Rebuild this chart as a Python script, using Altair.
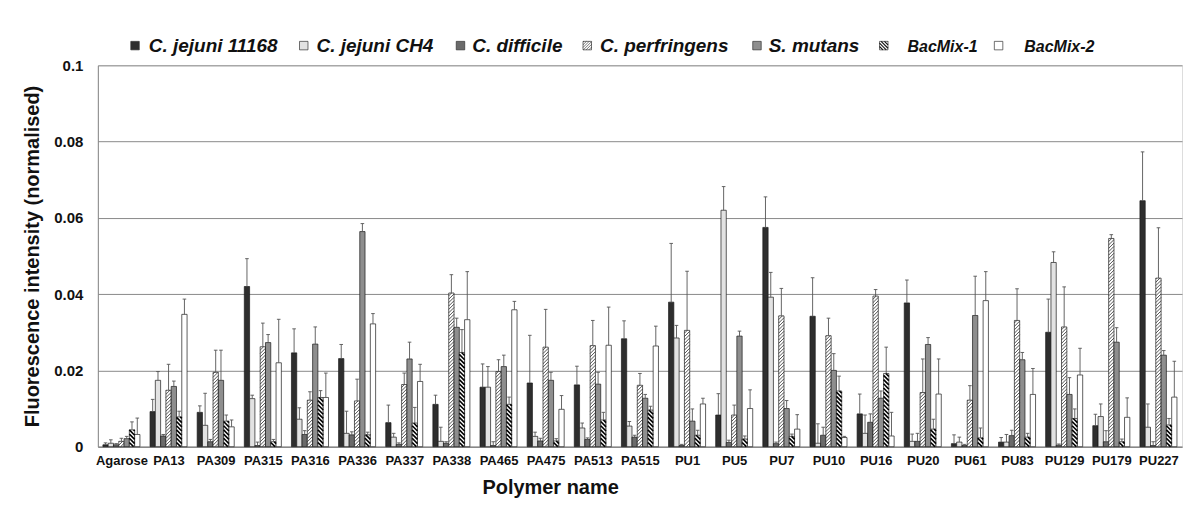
import json
import altair as alt
import pandas as pd

# ---------------- data ----------------
groups = ["Agarose", "PA13", "PA309", "PA315", "PA316", "PA336", "PA337", "PA338",
          "PA465", "PA475", "PA513", "PA515", "PU1", "PU5", "PU7", "PU10", "PU16",
          "PU20", "PU61", "PU83", "PU129", "PU179", "PU227"]

series = ["C. jejuni 11168", "C. jejuni CH4", "C. difficile", "C. perfringens",
          "S. mutans", "BacMix-1", "BacMix-2"]

cj11168 = [0.0005, 0.0092, 0.0090, 0.0420, 0.0246, 0.0231, 0.0063, 0.0111, 0.0156, 0.0167, 0.0162, 0.0283,
           0.0379, 0.0083, 0.0575, 0.0342, 0.0086, 0.0377, 0.0008, 0.0012, 0.0300, 0.0055, 0.0645]
cj11168_err = [0.0005, 0.0032, 0.0017, 0.0073, 0.0063, 0.0037, 0.0046, 0.0024, 0.0061, 0.0125, 0.0049, 0.0047,
               0.0154, 0.0056, 0.0080, 0.0101, 0.0052, 0.0060, 0.0023, 0.0012, 0.0087, 0.0030, 0.0128]

cjCH4 = [0.0009, 0.0174, 0.0056, 0.0126, 0.0072, 0.0035, 0.0025, 0.0014, 0.0156, 0.0027, 0.0049, 0.0054,
         0.0285, 0.0620, 0.0392, 0.0009, 0.0035, 0.0014, 0.0012, 0.0012, 0.0483, 0.0079, 0.0051]
cjCH4_err = [0.0009, 0.0023, 0.0084, 0.0009, 0.0030, 0.0058, 0.0010, 0.0037, 0.0054, 0.0011, 0.0013, 0.0012,
             0.0033, 0.0062, 0.0065, 0.0051, 0.0048, 0.0019, 0.0013, 0.0020, 0.0028, 0.0033, 0.0061]

cdiff = [0.0005, 0.0028, 0.0013, 0.0003, 0.0032, 0.0031, 0.0006, 0.0009, 0.0003, 0.0015, 0.0019, 0.0025,
         0.0003, 0.0011, 0.0008, 0.0030, 0.0064, 0.0014, 0.0003, 0.0029, 0.0004, 0.0013, 0.0003]
cdiff_err = [0.0003, 0.0004, 0.0006, 0.0009, 0.0010, 0.0008, 0.0004, 0.0004, 0.0010, 0.0007, 0.0004, 0.0005,
             0.0003, 0.0006, 0.0004, 0.0021, 0.0022, 0.0021, 0.0003, 0.0014, 0.0003, 0.0029, 0.0010]

cperf = [0.0014, 0.0148, 0.0195, 0.0262, 0.0122, 0.0120, 0.0163, 0.0403, 0.0197, 0.0261, 0.0265, 0.0161,
         0.0305, 0.0083, 0.0343, 0.0291, 0.0395, 0.0142, 0.0122, 0.0331, 0.0314, 0.0546, 0.0442]
cperf_err = [0.0008, 0.0068, 0.0058, 0.0062, 0.0022, 0.0057, 0.0030, 0.0048, 0.0031, 0.0099, 0.0066, 0.0031,
             0.0155, 0.0026, 0.0072, 0.0046, 0.0017, 0.0088, 0.0038, 0.0083, 0.0105, 0.0010, 0.0132]

smutans = [0.0021, 0.0158, 0.0174, 0.0273, 0.0269, 0.0564, 0.0230, 0.0313, 0.0210, 0.0174, 0.0164, 0.0127,
           0.0067, 0.0290, 0.0100, 0.0200, 0.0127, 0.0268, 0.0344, 0.0228, 0.0137, 0.0274, 0.0240]
smutans_err = [0.0006, 0.0014, 0.0079, 0.0021, 0.0045, 0.0021, 0.0044, 0.0024, 0.0030, 0.0021, 0.0031, 0.0010,
               0.0032, 0.0013, 0.0021, 0.0044, 0.0019, 0.0018, 0.0103, 0.0019, 0.0044, 0.0038, 0.0012]

bacmix1 = [0.0044, 0.0078, 0.0067, 0.0013, 0.0129, 0.0031, 0.0062, 0.0247, 0.0111, 0.0015, 0.0070, 0.0096,
           0.0030, 0.0020, 0.0027, 0.0146, 0.0192, 0.0046, 0.0023, 0.0025, 0.0074, 0.0013, 0.0057]
bacmix1_err = [0.0021, 0.0015, 0.0016, 0.0006, 0.0018, 0.0007, 0.0041, 0.0060, 0.0019, 0.0006, 0.0020, 0.0010,
               0.0013, 0.0008, 0.0006, 0.0039, 0.0069, 0.0026, 0.0026, 0.0010, 0.0025, 0.0007, 0.0017]

bacmix2 = [0.0032, 0.0347, 0.0052, 0.0220, 0.0129, 0.0322, 0.0171, 0.0333, 0.0359, 0.0098, 0.0266, 0.0264,
           0.0112, 0.0100, 0.0046, 0.0024, 0.0028, 0.0138, 0.0383, 0.0137, 0.0188, 0.0077, 0.0130]
bacmix2_err = [0.0043, 0.0040, 0.0018, 0.0114, 0.0064, 0.0027, 0.0045, 0.0126, 0.0022, 0.0036, 0.0100, 0.0052,
               0.0015, 0.0049, 0.0038, 0.0003, 0.0062, 0.0092, 0.0076, 0.0068, 0.0070, 0.0051, 0.0094]

y_ticks = [0, 0.02, 0.04, 0.06, 0.08, 0.1]

# ---------------- styling / layout ----------------
vals = [cj11168, cjCH4, cdiff, cperf, smutans, bacmix1, bacmix2]
errs = [cj11168_err, cjCH4_err, cdiff_err, cperf_err, smutans_err, bacmix1_err, bacmix2_err]
fills = ["#2e2e2e", "#e2e2e2", "#6a6a6a", "#ffffff", "#8e8e8e", "#ffffff", "#ffffff"]
hatched = {"C. perfringens": dict(spacing=3.4, flip=False, width=0.8, color="#2a2a2a"),
           "BacMix-1": dict(spacing=4.2, flip=True, width=1.6, color="#000000")}

FONT = "Liberation Sans"
W, H = 1086, 382
N = len(groups)
PXX = W / N          # pixels per group unit
PXY = H / 0.1        # pixels per value unit
BW = 5.3 / PXX       # bar width in group units
CAP = 1.8 / PXX


def hatch(wpx, hpx, spacing, flip):
    segs = []
    i = 1
    while True:
        c = -wpx + spacing * i
        if c >= hpx:
            break
        xs = max(0.0, -c)
        xe = min(wpx, hpx - c)
        if xe - xs > 0.15:
            ys, ye = xs + c, xe + c
            if flip:
                xs, xe = wpx - xs, wpx - xe
            segs.append((xs, ys, xe, ye))
        i += 1
    return segs


rows, hrows = [], []
for k, s in enumerate(series):
    for g, name in enumerate(groups):
        v, e = vals[k][g], errs[k][g]
        c = g + (k - 3) * BW
        x1, x2 = c - BW / 2, c + BW / 2
        rows.append(dict(series=s, group=name, x1=x1, x2=x2, xc=c, y0=0.0, v=v, top=v + e,
                         c1=c - CAP, c2=c + CAP))
        if s in hatched:
            hp = hatched[s]
            for xs, ys, xe, ye in hatch(5.3, v * PXY, hp["spacing"], hp["flip"]):
                hrows.append(dict(series=s, hx1=x1 + xs / PXX, hy1=ys / PXY,
                                  hx2=x1 + xe / PXX, hy2=ye / PXY))

df = pd.DataFrame(rows)
hdf = pd.DataFrame(hrows)

xscale = alt.Scale(domain=[-0.5, N - 0.5], nice=False, zero=False)
yscale = alt.Scale(domain=[0, 0.1], nice=False)

xaxis = alt.Axis(values=list(range(N)), labelExpr=f"{json.dumps(groups)}[datum.value]",
                 title="Polymer name", grid=False, ticks=False, tickSize=0, labelPadding=8,
                 labelFont=FONT, labelFontSize=13, labelFontWeight="bold", labelColor="#111",
                 labelOverlap=False, labelFlush=False,
                 titleFont=FONT, titleFontSize=20, titleFontWeight="bold", titleColor="#111",
                 titleX=453, titleY=41, titleAlign="center", titleBaseline="middle",
                 domainColor="#777", domainWidth=1)
yaxis = alt.Axis(values=y_ticks, format=".2~f", title="Fluorescence intensity (normalised)",
                 grid=True, gridColor="#8a8a8a", gridWidth=1, ticks=False, tickSize=0,
                 labelPadding=15, labelFont=FONT, labelFontSize=15, labelFontWeight="bold",
                 labelColor="#111",
                 titleFont=FONT, titleFontSize=20, titleFontWeight="bold", titleColor="#111",
                 titleX=-65, titleY=H / 2, titleAngle=270, titleAlign="center",
                 titleBaseline="middle", domainColor="#888", domainWidth=1)

fill_enc = alt.Fill("series:N", scale=alt.Scale(domain=series, range=fills), legend=None)

bars = alt.Chart(df).mark_rect(stroke="#1a1a1a", strokeWidth=0.7).encode(
    x=alt.X("x1:Q", scale=xscale, axis=xaxis), x2="x2:Q",
    y=alt.Y("v:Q", scale=yscale, axis=yaxis), y2="y0:Q",
    fill=fill_enc)

hatch_layers = []
for s, hp in hatched.items():
    hatch_layers.append(
        alt.Chart(hdf[hdf.series == s]).mark_rule(color=hp["color"], strokeWidth=hp["width"]).encode(
            x=alt.X("hx1:Q", scale=xscale), x2="hx2:Q",
            y=alt.Y("hy1:Q", scale=yscale), y2="hy2:Q"))

err_line = alt.Chart(df).mark_rule(color="#555555", strokeWidth=0.9).encode(
    x=alt.X("xc:Q", scale=xscale), y=alt.Y("v:Q", scale=yscale), y2="top:Q")
err_cap = alt.Chart(df).mark_rule(color="#555555", strokeWidth=0.9).encode(
    x=alt.X("c1:Q", scale=xscale), x2="c2:Q", y=alt.Y("top:Q", scale=yscale))

# ---------------- legend (pixel positions relative to plot origin) ----------------
leg_square_x = [131, 300, 457, 584, 754, 881, 996]
leg_text_x = [149, 317, 473, 601, 770, 909, 1026]
leg_font = [19, 19, 19, 19, 19, 16, 16]
PLOT_LEFT, PLOT_TOP = 98, 65
SQ = 8.5
leg_rows, leg_h = [], []
for k, s in enumerate(series):
    lx = leg_square_x[k] - PLOT_LEFT
    top, bot = 41 - PLOT_TOP, 41 - PLOT_TOP + SQ
    leg_rows.append(dict(series=s, sx1=lx, sx2=lx + SQ, sy1=top, sy2=bot,
                         tx=leg_text_x[k] - PLOT_LEFT, ty=51.5 - PLOT_TOP, fs=leg_font[k]))
    if s in hatched:
        hp = hatched[s]
        for xs, ys, xe, ye in hatch(SQ, SQ, hp["spacing"] * 0.8, hp["flip"]):
            leg_h.append(dict(series=s, a1=lx + xs, b1=bot - ys, a2=lx + xe, b2=bot - ye,
                              w=hp["width"] * 0.7))
ldf = pd.DataFrame(leg_rows)
lhdf = pd.DataFrame(leg_h)

leg_sq = alt.Chart(ldf).mark_rect(stroke="#333", strokeWidth=0.7).encode(
    x=alt.X("sx1:Q", scale=None, axis=None), x2="sx2:Q",
    y=alt.Y("sy1:Q", scale=None, axis=None), y2="sy2:Q",
    fill=fill_enc)
leg_hatch = alt.Chart(lhdf).mark_rule(color="#111").encode(
    x=alt.X("a1:Q", scale=None, axis=None), x2="a2:Q",
    y=alt.Y("b1:Q", scale=None, axis=None), y2="b2:Q",
    strokeWidth=alt.StrokeWidth("w:Q", scale=None, legend=None))
leg_txt = alt.Chart(ldf).mark_text(align="left", baseline="alphabetic", font=FONT,
                                   fontWeight="bold", fontStyle="italic", color="#111").encode(
    x=alt.X("tx:Q", scale=None, axis=None), y=alt.Y("ty:Q", scale=None, axis=None),
    text="series:N", size=alt.Size("fs:Q", scale=None, legend=None))

chart = alt.layer(bars, *hatch_layers, err_line, err_cap, leg_sq, leg_hatch, leg_txt).properties(
    width=W, height=H,
    autosize=alt.AutoSizeParams(type="none"),
    padding={"left": 90, "top": 57, "right": 10, "bottom": 56},
).configure_view(stroke=None).configure(background="white")

chart.save("out.html", embed_options={"renderer": "svg", "actions": False})
